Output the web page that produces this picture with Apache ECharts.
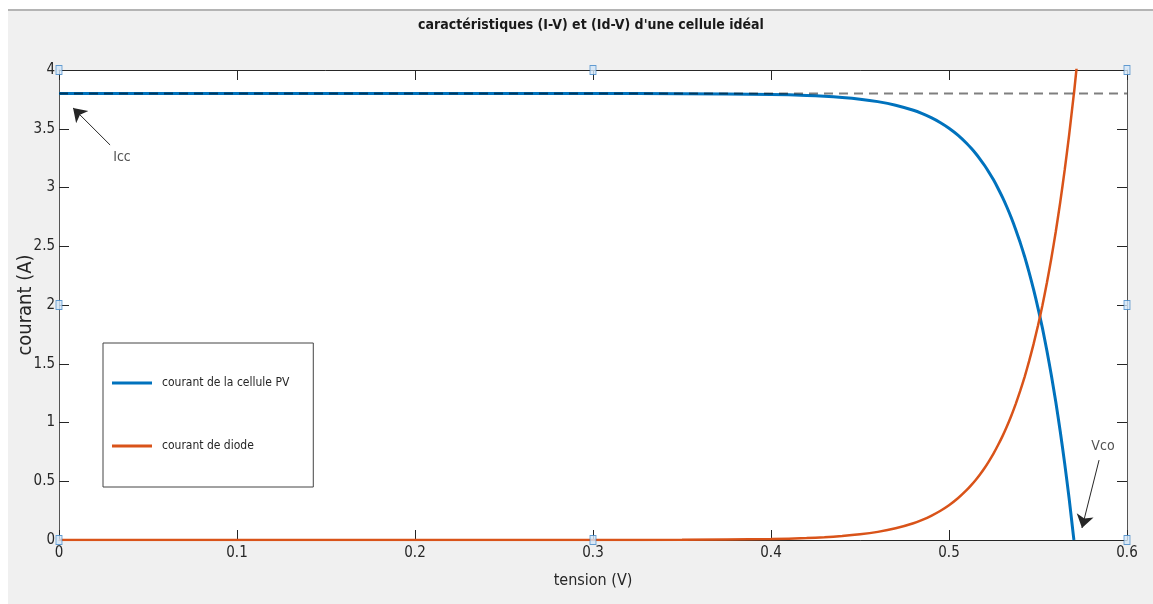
<!DOCTYPE html>
<html>
<head>
<meta charset="utf-8">
<script src="https://cdn.jsdelivr.net/npm/echarts@6/dist/echarts.min.js"></script>
<style>
  html, body { margin: 0; padding: 0; background: #ffffff; }
  #frame { position: absolute; left: 8px; top: 9px; width: 1145px; height: 595px; background: #f0f0f0; border-top: 2px solid #b4b4b4; box-sizing: border-box; }
  #chart { position: absolute; left: 0; top: 0; width: 1153px; height: 604px; }
</style>
</head>
<body>
<div id="frame"></div>
<div id="chart"></div>
<script>
// ---- data ----
const titleText = "caractéristiques (I-V) et (Id-V) d'une cellule idéal";
const xTicks = [0, 0.1, 0.2, 0.3, 0.4, 0.5, 0.6];
const yTicks = [0, 0.5, 1, 1.5, 2, 2.5, 3, 3.5, 4];

const cellV = [0, 0.05, 0.1, 0.15, 0.2, 0.25, 0.3, 0.35, 0.4, 0.42, 0.43, 0.44, 0.45, 0.46, 0.47, 0.48, 0.485, 0.49, 0.495, 0.5, 0.505, 0.51, 0.5125, 0.515, 0.5175, 0.52, 0.5225, 0.525, 0.5275, 0.53, 0.5325, 0.535, 0.5375, 0.54, 0.5425, 0.545, 0.5475, 0.55, 0.5525, 0.555, 0.5575, 0.56, 0.5625, 0.565, 0.5675, 0.57, 0.5702];
const cellI = [3.8, 3.8, 3.8, 3.8, 3.8, 3.8, 3.7998, 3.7987, 3.7922, 3.7838, 3.7768, 3.7666, 3.752, 3.7308, 3.7005, 3.657, 3.628, 3.594, 3.553, 3.504, 3.445, 3.374, 3.333, 3.289, 3.240, 3.187, 3.128, 3.065, 2.994, 2.918, 2.834, 2.742, 2.641, 2.531, 2.411, 2.278, 2.133, 1.974, 1.803, 1.611, 1.402, 1.174, 0.924, 0.650, 0.352, 0.022, 0];

const diodeV = [0, 0.05, 0.1, 0.15, 0.2, 0.25, 0.3, 0.35, 0.4, 0.42, 0.43, 0.44, 0.45, 0.46, 0.47, 0.48, 0.485, 0.49, 0.495, 0.5, 0.505, 0.51, 0.5125, 0.515, 0.5175, 0.52, 0.5225, 0.525, 0.5275, 0.53, 0.5325, 0.535, 0.5375, 0.54, 0.5425, 0.545, 0.5475, 0.55, 0.5525, 0.555, 0.5575, 0.56, 0.5625, 0.565, 0.5675, 0.57, 0.5702, 0.5725, 0.575];
const diodeI = [0, 0, 0, 0, 0, 0, 0.0002, 0.0013, 0.0078, 0.0162, 0.0232, 0.0334, 0.048, 0.0692, 0.0995, 0.143, 0.172, 0.206, 0.247, 0.296, 0.355, 0.426, 0.467, 0.511, 0.560, 0.613, 0.672, 0.735, 0.806, 0.882, 0.966, 1.058, 1.159, 1.269, 1.389, 1.522, 1.667, 1.826, 1.997, 2.189, 2.398, 2.626, 2.876, 3.150, 3.448, 3.778, 3.80, 4.14, 4.53];

const iccLevel = 3.8;
const iccLineX = [0, 0.6];

// annotation arrows (data coordinates): [tailV, tailI, tipV, tipI]
const iccArrow = [0.0287, 3.362, 0.0079, 3.677];
const iccLabel = [0.0354, 3.26, "Icc"];
const vcoArrow = [0.5843, 0.68, 0.5747, 0.102];
const vcoLabel = [0.5865, 0.80, "Vco"];

// edit handles on the axes box
const handleX = [0, 0.3, 0.6, 0, 0.3, 0.6, 0, 0.6];
const handleY = [4, 4, 4, 0, 0, 0, 2, 2];

const seriesNames = ["courant de la cellule PV", "courant de diode"];
// ---------------------------------------

const FONT = "'Liberation Sans Narrow', 'DejaVu Sans Condensed', 'Liberation Sans', Arial, sans-serif";
const zip = (a, b) => a.map((v, i) => [v, b[i]]);

const chart = echarts.init(document.getElementById('chart'), null, { renderer: 'canvas' });

const axisCommon = {
  type: 'value',
  axisLine: { show: true, onZero: false, lineStyle: { color: '#262626', width: 1 } },
  axisTick: { show: true, inside: true, length: 10, lineStyle: { color: '#262626', width: 1 } },
  splitLine: { show: false },
};

chart.setOption({
  animation: false,
  backgroundColor: 'transparent',
  title: {
    text: titleText,
    left: 586, top: 13, textAlign: 'center',
    textStyle: { fontFamily: FONT, fontSize: 14, fontWeight: 'bold', color: '#1a1a1a' }
  },
  grid: { left: 59, right: 26, top: 70, bottom: 64, show: true, backgroundColor: '#ffffff', borderWidth: 0,
    outerBoundsMode: 'none', containLabel: false },
  legend: {
    data: seriesNames,
    orient: 'vertical',
    left: 103, top: 343,
    icon: 'rect', itemWidth: 40, itemHeight: 3, itemGap: 51,
    padding: [34, 24, 35, 9],
    backgroundColor: '#ffffff', borderColor: '#444444', borderWidth: 1,
    textStyle: { fontFamily: FONT, fontSize: 12, color: '#262626', padding: [0, 0, 0, 5] }
  },
  xAxis: [
    Object.assign({}, axisCommon, {
      min: 0, max: 0.6, interval: 0.1, position: 'bottom',
      name: 'tension (V)', nameLocation: 'middle', nameGap: 33,
      nameTextStyle: { fontFamily: FONT, fontSize: 16, color: '#262626' },
      axisLabel: { fontFamily: FONT, fontSize: 15, color: '#262626', margin: 6,
        formatter: v => xTicks.includes(+v.toFixed(2)) ? String(+v.toFixed(2)) : '' }
    }),
    Object.assign({}, axisCommon, {
      min: 0, max: 0.6, interval: 0.1, position: 'top', axisLabel: { show: false }
    })
  ],
  yAxis: [
    Object.assign({}, axisCommon, {
      min: 0, max: 4, interval: 0.5, position: 'left',
      name: 'courant (A)', nameLocation: 'middle', nameGap: 23, nameMoveOverlap: false,
      nameTextStyle: { fontFamily: FONT, fontSize: 20, color: '#262626' },
      axisLine: { show: true, onZero: false, lineStyle: { color: '#555555', width: 1 } },
      axisLabel: { fontFamily: FONT, fontSize: 15, color: '#262626', margin: 4,
        formatter: v => yTicks.includes(+v.toFixed(2)) ? String(+v.toFixed(2)) : '' }
    }),
    Object.assign({}, axisCommon, {
      min: 0, max: 4, interval: 0.5, position: 'right', axisLabel: { show: false },
      axisLine: { show: true, onZero: false, lineStyle: { color: '#555555', width: 1 } }
    })
  ],
  series: [
    {
      name: seriesNames[0], type: 'line', data: zip(cellV, cellI),
      showSymbol: false, smooth: 0.2, clip: true, z: 3,
      lineStyle: { color: '#0072BD', width: 3 }, itemStyle: { color: '#0072BD' }
    },
    {
      name: seriesNames[1], type: 'line', data: zip(diodeV, diodeI),
      showSymbol: false, smooth: 0.2, clip: true, z: 3,
      lineStyle: { color: '#D95319', width: 2.5 }, itemStyle: { color: '#D95319' }
    },
    {
      name: 'Icc', type: 'line', data: iccLineX.map(v => [v, iccLevel]),
      showSymbol: false, z: 4, silent: true,
      lineStyle: { color: 'rgba(0,0,0,0.5)', width: 2, type: [9, 6] }
    },
    {
      name: 'arrows', type: 'lines', coordinateSystem: 'cartesian2d', z: 5, silent: true,
      symbol: ['none', 'arrow'], symbolSize: [1, 13],
      lineStyle: { color: '#262626', width: 1, opacity: 1 },
      data: [
        { coords: [[iccArrow[0], iccArrow[1]], [iccArrow[2], iccArrow[3]]] },
        { coords: [[vcoArrow[0], vcoArrow[1]], [vcoArrow[2], vcoArrow[3]]] }
      ]
    },
    {
      name: 'labels', type: 'scatter', symbolSize: 0, z: 5, silent: true, clip: false,
      data: [iccLabel, vcoLabel].map(d => ({ value: [d[0], d[1]], label: { show: true, formatter: d[2] } })),
      label: { position: 'inside', fontFamily: FONT, fontSize: 14, color: '#262626' }
    },
    {
      name: 'handles', type: 'scatter', symbol: 'rect', symbolSize: [6, 9], z: 6, silent: true, clip: false,
      data: zip(handleX, handleY),
      itemStyle: { color: '#d3e6f7', borderColor: '#3d85c6', borderWidth: 1 }
    }
  ]
});
</script>
</body>
</html>
